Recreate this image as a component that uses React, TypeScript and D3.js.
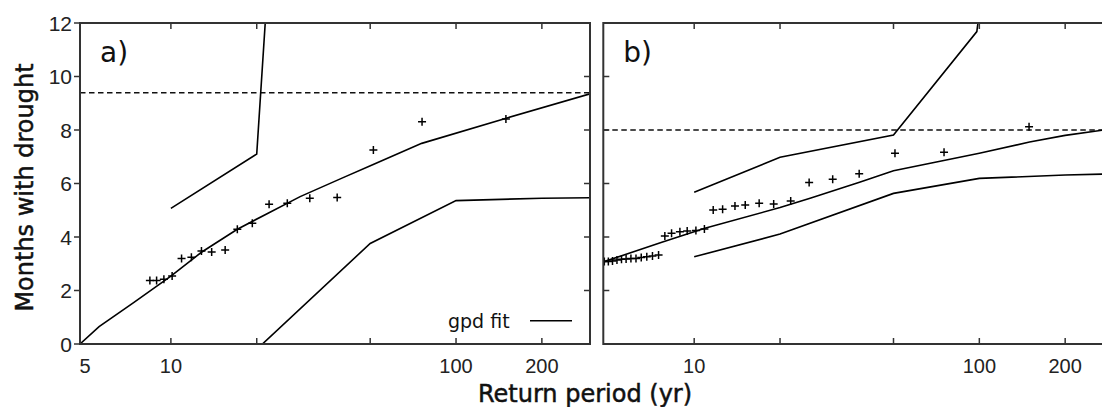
import React, { useEffect, useRef } from "react";
import * as d3 from "d3";

// panel a) observed return periods (yr) and months with drought
const aObsT = [8.44, 8.91, 9.45, 10.1, 10.9, 11.8, 12.8, 13.9, 15.5, 17.1, 19.3, 22.1, 25.6, 30.7, 38.3, 51.3, 76, 149.6];
const aObsM = [2.37, 2.37, 2.42, 2.54, 3.2, 3.24, 3.48, 3.44, 3.51, 4.29, 4.51, 5.22, 5.26, 5.45, 5.48, 7.25, 8.31, 8.41];
// panel a) gpd fit and its bounds
const aFitT = [4.8, 5.6, 7.4, 10, 12.8, 17.1, 22, 28.4, 40, 51, 75.8, 151, 295];
const aFitM = [0, 0.65, 1.55, 2.54, 3.43, 4.29, 4.9, 5.51, 6.21, 6.7, 7.5, 8.45, 9.35];
const aUpT = [10, 20, 21.45];
const aUpM = [5.07, 7.1, 12.1];
const aLoT = [20, 50, 100, 200, 295];
const aLoM = [-0.2, 3.76, 5.36, 5.45, 5.47];
const aThreshold = 9.39;

// panel b)
const bObsT = [4.84, 5, 5.17, 5.36, 5.56, 5.77, 6, 6.25, 6.52, 6.82, 7.14, 7.5,
  7.89, 8.33, 8.91, 9.45, 10.14, 10.86,
  11.66, 12.58, 13.9, 15.1, 16.9, 19, 21.8,
  25.3, 30.6, 37.9, 50.6, 75.2, 149.4];
const bObsM = [3.08, 3.08, 3.1, 3.14, 3.17, 3.18, 3.2, 3.2, 3.23, 3.26, 3.29, 3.33,
  4.04, 4.14, 4.2, 4.22, 4.24, 4.3,
  5.01, 5.04, 5.16, 5.2, 5.26, 5.23, 5.35,
  6.04, 6.16, 6.36, 7.13, 7.17, 8.12];
const bFitT = [4.8, 7.7, 10.9, 20, 25.5, 38, 50, 100, 150, 200, 295];
const bFitM = [3.07, 3.8, 4.33, 5.1, 5.45, 6.05, 6.48, 7.13, 7.55, 7.8, 8.05];
const bUpT = [10, 20, 50, 98, 100];
const bUpM = [5.67, 6.98, 7.81, 11.68, 12.4];
const bLoT = [10, 20, 50, 100, 200, 295];
const bLoM = [3.26, 4.11, 5.63, 6.19, 6.32, 6.36];
const bThreshold = 8.0;

const xTicks = [10, 20, 50, 100, 200];
const aXLabels = [5, 10, 100, 200];
const bXLabels = [10, 100, 200];
const yTicks = [0, 2, 4, 6, 8, 10, 12];

const W = 1102;
const H = 407;
const top = 23;
const bottom = 344;

export default function App() {
  const ref = useRef<SVGSVGElement>(null);

  useEffect(() => {
    const svg = d3.select(ref.current);
    svg.selectAll("*").remove();

    const y = d3.scaleLinear().domain([0, 12]).range([bottom, top]);
    const xa = d3.scaleLog().domain([4.8, 295]).range([80, 590]);
    const xb = d3.scaleLog().domain([4.8, 295]).range([603.3, 1113.3]);

    const tickFont = "'Liberation Sans', Arial, sans-serif";
    const titleFont = "'DejaVu Sans', Verdana, sans-serif";

    const panel = (
      id: string,
      x: d3.ScaleLogarithmic<number, number>,
      obsT: number[], obsM: number[],
      fitT: number[], fitM: number[],
      upT: number[], upM: number[],
      loT: number[], loM: number[],
      threshold: number,
      xLabels: number[],
      letter: string,
      outerLeft: boolean
    ) => {
      const [x0, x1] = x.range();
      const g = svg.append("g");

      svg
        .append("clipPath")
        .attr("id", id)
        .append("rect")
        .attr("x", x0)
        .attr("y", top)
        .attr("width", x1 - x0)
        .attr("height", bottom - top);

      const plot = g.append("g").attr("clip-path", `url(#${id})`);

      // threshold line
      plot
        .append("line")
        .attr("x1", x0)
        .attr("x2", x1)
        .attr("y1", y(threshold))
        .attr("y2", y(threshold))
        .attr("stroke", "#111")
        .attr("stroke-width", 1.5)
        .attr("stroke-dasharray", "5.5,3.5");

      const line = d3
        .line<[number, number]>()
        .x((d) => x(d[0]))
        .y((d) => y(d[1]));

      [
        [fitT, fitM],
        [upT, upM],
        [loT, loM],
      ].forEach(([ts, ms]) => {
        plot
          .append("path")
          .datum(ts.map((t, i) => [t, ms[i]] as [number, number]))
          .attr("d", line)
          .attr("fill", "none")
          .attr("stroke", "#000")
          .attr("stroke-width", 1.6);
      });

      // observations as crosses
      const pts = obsT.map((t, i) => [t, obsM[i]]);
      plot
        .selectAll("path.obs")
        .data(pts)
        .join("path")
        .attr("class", "obs")
        .attr("d", (d) => {
          const cx = x(d[0]);
          const cy = y(d[1]);
          return `M${cx - 4},${cy}H${cx + 4}M${cx},${cy - 4}V${cy + 4}`;
        })
        .attr("stroke", "#000")
        .attr("stroke-width", 1.5);

      // frame
      g.append("rect")
        .attr("x", x0)
        .attr("y", top)
        .attr("width", x1 - x0)
        .attr("height", bottom - top)
        .attr("fill", "none")
        .attr("stroke", "#333")
        .attr("stroke-width", 2);

      // x ticks, inward top and bottom
      xTicks.forEach((t) => {
        g.append("line")
          .attr("x1", x(t)).attr("x2", x(t))
          .attr("y1", bottom).attr("y2", bottom - 6)
          .attr("stroke", "#333").attr("stroke-width", 1.5);
        g.append("line")
          .attr("x1", x(t)).attr("x2", x(t))
          .attr("y1", top).attr("y2", top + 6)
          .attr("stroke", "#333").attr("stroke-width", 1.5);
      });

      g.selectAll("text.xl")
        .data(xLabels)
        .join("text")
        .attr("class", "xl")
        .attr("x", (d) => x(d))
        .attr("y", 373)
        .attr("text-anchor", "middle")
        .style("font-family", tickFont)
        .style("font-size", "20px")
        .attr("fill", "#222")
        .text((d) => d);

      // y ticks
      yTicks.forEach((v) => {
        g.append("line")
          .attr("x1", outerLeft ? x0 - 6 : x0).attr("x2", outerLeft ? x0 : x0 + 6)
          .attr("y1", y(v)).attr("y2", y(v))
          .attr("stroke", "#333").attr("stroke-width", 1.5);
        g.append("line")
          .attr("x1", x1 - 6).attr("x2", x1)
          .attr("y1", y(v)).attr("y2", y(v))
          .attr("stroke", "#333").attr("stroke-width", 1.5);
      });

      g.append("text")
        .attr("x", x0 + 20)
        .attr("y", 62)
        .style("font-family", titleFont)
        .style("font-size", "28px")
        .attr("fill", "#111")
        .text(letter);
    };

    panel("clipA", xa, aObsT, aObsM, aFitT, aFitM, aUpT, aUpM, aLoT, aLoM, aThreshold, aXLabels, "a)", true);
    panel("clipB", xb, bObsT, bObsM, bFitT, bFitM, bUpT, bUpM, bLoT, bLoM, bThreshold, bXLabels, "b)", false);

    // y tick labels on the left panel only
    svg
      .selectAll("text.yl")
      .data(yTicks)
      .join("text")
      .attr("class", "yl")
      .attr("x", 72)
      .attr("y", (d) => y(d))
      .attr("dy", "0.36em")
      .attr("text-anchor", "end")
      .style("font-family", tickFont)
      .style("font-size", "21px")
      .attr("fill", "#222")
      .text((d) => d);

    // legend
    svg
      .append("text")
      .attr("x", 448)
      .attr("y", 327.5)
      .style("font-family", titleFont)
      .style("font-size", "19px")
      .attr("fill", "#111")
      .text("gpd fit");
    svg
      .append("line")
      .attr("x1", 530)
      .attr("x2", 572)
      .attr("y1", 320.7)
      .attr("y2", 320.7)
      .attr("stroke", "#000")
      .attr("stroke-width", 1.6);

    // axis titles
    svg
      .append("text")
      .attr("transform", `translate(33,187.5) rotate(-90)`)
      .attr("text-anchor", "middle")
      .style("font-family", titleFont)
      .style("font-size", "24px")
      .attr("fill", "#111")
      .attr("stroke", "#111")
      .attr("stroke-width", 0.5)
      .text("Months with drought");

    svg
      .append("text")
      .attr("x", 585)
      .attr("y", 401.5)
      .attr("text-anchor", "middle")
      .style("font-family", titleFont)
      .style("font-size", "24px")
      .attr("fill", "#111")
      .attr("stroke", "#111")
      .attr("stroke-width", 0.5)
      .text("Return period (yr)");
  }, []);

  return (
    <svg
      ref={ref}
      width={W}
      height={H}
      style={{ position: "absolute", left: 0, top: 0, background: "#fff" }}
    />
  );
}
